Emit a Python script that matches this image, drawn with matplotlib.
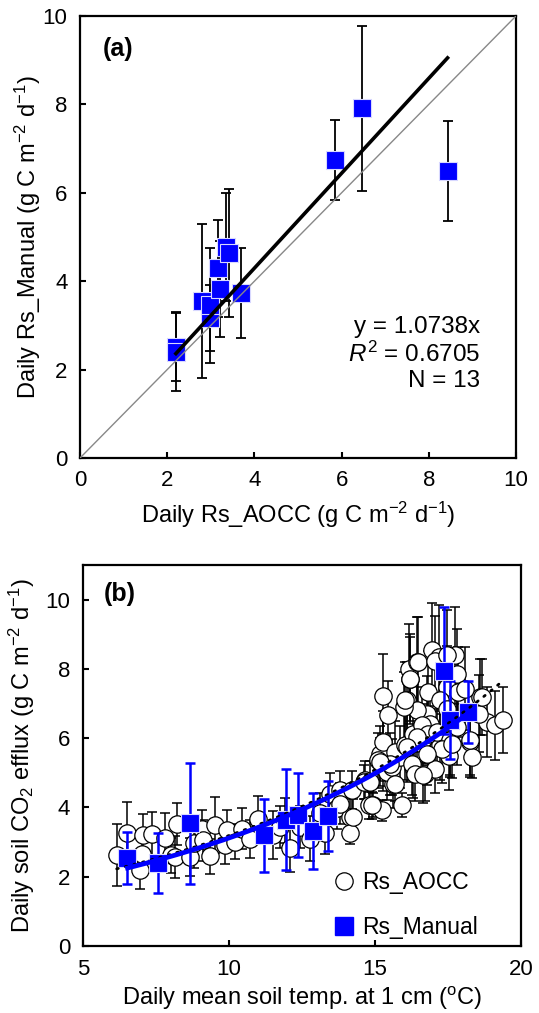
import numpy as np
import matplotlib
matplotlib.use('Agg')
import matplotlib.pyplot as plt
from matplotlib.lines import Line2D

plt.rcParams['font.family'] = ['Liberation Sans', 'DejaVu Sans']
plt.rcParams['mathtext.fontset'] = 'custom'
plt.rcParams['mathtext.rm'] = 'Liberation Sans'
plt.rcParams['mathtext.it'] = 'Liberation Sans:italic'
plt.rcParams['mathtext.bf'] = 'Liberation Sans:bold'

# ---------------- Panel (a) data ----------------
aocc_a = [2.20, 2.20, 2.79, 2.98, 2.98, 3.16, 3.20, 3.34, 3.42, 3.69, 5.86, 6.47, 8.43]
manual_a = [2.52, 2.40, 3.55, 3.17, 3.46, 4.29, 3.82, 4.78, 4.63, 3.73, 6.74, 7.91, 6.50]
manual_a_err = [0.78, 0.88, 1.75, 0.75, 1.30, 1.09, 1.08, 1.22, 1.45, 1.01, 0.91, 1.86, 1.13]
slope_a = 1.0738
eq_lines = ["y = 1.0738x", "$\\mathit{R}^2$ = 0.6705", "N = 13"]

# ---------------- Panel (b) data ----------------
temp_aocc = [6.16, 6.50, 6.96, 7.02, 7.07, 7.36, 7.82, 8.03, 8.21, 8.16, 8.67, 8.79,
             9.07, 9.13, 9.36, 9.53, 9.87, 9.93, 10.21, 10.44, 10.73, 11.01, 11.52,
             11.75, 12.10, 12.44, 12.78, 13.30, 13.47, 13.70, 13.82, 14.15, 14.13,
             14.21, 11.92, 13.12, 13.81, 14.66, 14.78,
             14.61, 14.84, 14.95, 15.24, 15.92, 15.63, 14.89, 15.29, 15.18, 15.29,
             15.41, 15.12, 15.58, 15.86, 15.69, 15.29, 15.46, 16.03, 16.09, 16.20,
             16.15, 16.44, 16.95, 17.18, 17.75, 17.80, 17.46, 16.83, 17.23, 17.46,
             16.78, 16.89, 16.44, 15.98, 16.32, 16.66, 17.23, 17.57, 17.52, 18.26,
             18.32, 18.60, 18.83, 19.12, 19.40, 16.72, 16.32, 15.52, 16.21, 16.03,
             16.49, 17.06, 17.46, 17.86, 18.09, 16.61, 16.83, 16.43, 17.12, 17.58,
             17.80, 18.55, 18.66, 18.26, 17.29, 17.63, 16.09, 16.26, 16.38, 17.06,
             16.78, 15.69, 16.66, 15.18, 14.26]
rs_aocc = [2.62, 3.25, 2.19, 2.67, 3.20, 3.23, 3.13, 2.62, 3.52, 2.57, 2.57, 2.96,
           3.39, 3.05, 2.59, 3.49, 2.91, 3.34, 3.01, 3.39, 3.10, 3.68, 3.20,
           3.44, 2.84, 3.44, 3.10, 3.25, 4.40, 3.97, 4.50, 3.73, 3.25,
           4.50, 3.63, 3.83, 4.11, 4.78, 4.06,
           4.74, 4.74, 4.07, 3.92, 4.07, 4.69, 4.06, 5.17, 5.55, 5.89,
           5.02, 5.36, 5.17, 5.46, 5.60, 7.23, 6.66, 5.79, 7.09, 7.72,
           8.00, 8.19, 8.55, 8.34, 8.39, 7.86, 7.47, 7.33, 7.09, 6.85,
           6.70, 6.42, 6.80, 6.90, 6.13, 5.98, 5.79, 5.89, 5.50, 5.89,
           5.46, 7.19, 6.47, 6.37, 6.53, 4.98, 5.17, 5.26, 7.71, 7.09,
           8.19, 8.24, 8.39, 7.33, 7.43, 6.37, 6.13, 6.03, 6.18, 5.94,
           6.32, 6.71, 7.18, 5.94, 5.70, 5.84, 5.74, 5.26, 4.98, 5.12,
           5.55, 4.69, 4.93, 5.31, 3.73]
rs_aocc_err = [0.90, 0.92, 0.55, 0.60, 0.60, 0.65, 0.70, 0.50, 0.60, 0.60, 0.55, 0.70,
               0.55, 0.60, 0.50, 0.80, 0.55, 0.60, 0.50, 0.60, 0.55, 0.65, 0.70,
               0.60, 0.70, 0.60, 0.65, 0.60, 0.60, 0.60, 0.55, 0.55, 0.30,
               0.55, 0.65, 0.60, 0.60, 0.55, 0.40,
               0.50, 0.60, 0.35, 0.30, 0.34, 0.70, 0.40, 0.70, 0.80, 0.90,
               0.80, 0.80, 0.80, 0.90, 0.90, 1.20, 1.00, 1.00, 1.10, 1.30,
               1.30, 1.30, 1.35, 1.50, 1.40, 1.30, 1.20, 1.20, 1.20, 1.10,
               1.10, 1.10, 1.20, 1.00, 1.00, 1.00, 1.00, 1.00, 1.00, 1.00,
               0.60, 1.10, 1.00, 1.00, 0.95, 0.80, 0.90, 0.90, 1.20, 1.10,
               1.30, 1.30, 1.30, 1.30, 1.20, 1.10, 1.10, 1.00, 1.10, 1.00,
               1.10, 1.10, 1.10, 1.00, 1.00, 1.00, 1.00, 0.90, 0.80, 0.70,
               0.90, 0.50, 0.80, 0.70, 0.50]

temp_manual = [6.53, 7.56, 8.66, 11.21, 11.95, 12.35, 12.89, 13.38, 17.35, 17.57, 18.17]
rs_manual_b = [2.53, 2.40, 3.54, 3.20, 3.65, 3.78, 3.32, 3.76, 7.95, 6.53, 6.75]
rs_manual_b_err = [0.75, 0.87, 1.75, 1.05, 1.45, 1.22, 1.10, 1.01, 1.84, 1.13, 0.90]

# exponential fits y = a*exp(b*T)
fit_manual = (1.22, 0.0938)
fit_aocc = (1.253, 0.0934)

BLUE = '#0000ff'
MS = 12.5

fig = plt.figure(figsize=(5.39, 10.13), dpi=100)

# ---------------- Panel (a) ----------------
axa = fig.add_axes([80/539, 555/1013, 436/539, 442/1013])
axa.plot([0, 10], [0, 10], color='#888888', lw=1.0, zorder=4)
xr = np.array([min(aocc_a), max(aocc_a)])
axa.plot(xr, slope_a * xr, color='black', lw=2.6, zorder=5)
axa.errorbar(aocc_a, manual_a, yerr=manual_a_err, fmt='none', ecolor='black',
             elinewidth=1.3, capsize=3.5, capthick=1.3, zorder=2)
axa.plot(aocc_a, manual_a, 's', color=BLUE, markersize=MS, markeredgecolor='#d8d8ff',
         markeredgewidth=0.8, zorder=3)
axa.set_xlim(0, 10)
axa.set_ylim(0, 10)
axa.set_xticks(range(0, 11, 2))
axa.set_yticks(range(0, 11, 2))
axa.text(0.052, 0.925, '(a)', transform=axa.transAxes, fontsize=18, fontweight='bold',
         ha='left', va='center')
for i, line in enumerate(eq_lines):
    axa.text(0.918, 0.296 - i * 0.061, line, transform=axa.transAxes, fontsize=17.5,
             ha='right', va='center')
axa.set_xlabel('Daily Rs_AOCC (g C m$^{\u22122}$ d$^{\u22121}$)', fontsize=17)
axa.set_ylabel('Daily Rs_Manual (g C m$^{\u22122}$ d$^{\u22121}$)', fontsize=17)
axa.xaxis.set_label_coords(0.5, -0.095)
axa.yaxis.set_label_coords(-0.084, 0.5)

# ---------------- Panel (b) ----------------
axb = fig.add_axes([82.8/539, 67/1013, 438.2/539, 381/1013])
axb.errorbar(temp_aocc, rs_aocc, yerr=rs_aocc_err, fmt='none', ecolor='black',
             elinewidth=1.1, capsize=3.5, capthick=1.1, zorder=2)
axb.plot(temp_aocc, rs_aocc, 'o', markerfacecolor='white', markeredgecolor='black',
         markersize=MS, markeredgewidth=0.9, zorder=3)
axb.errorbar(temp_manual, rs_manual_b, yerr=rs_manual_b_err, fmt='none', ecolor=BLUE,
             elinewidth=1.8, capsize=3.5, capthick=1.8, zorder=4)
axb.plot(temp_manual, rs_manual_b, 's', color=BLUE, markersize=MS,
         markeredgecolor='#d8d8ff', markeredgewidth=0.8, zorder=5)
ta = np.linspace(min(temp_aocc), max(temp_aocc), 200)
axb.plot(ta, fit_aocc[0] * np.exp(fit_aocc[1] * ta), color='black', lw=2.0,
         linestyle=(0, (0.6, 2.6)), dash_capstyle='round', zorder=5.5)
tm = np.linspace(min(temp_manual), max(temp_manual), 200)
axb.plot(tm, fit_manual[0] * np.exp(fit_manual[1] * tm), color=BLUE, lw=3.4, zorder=6)
axb.set_xlim(5, 20)
axb.set_ylim(0, 11)
axb.set_xticks([5, 10, 15, 20])
axb.set_yticks(range(0, 11, 2))
axb.text(0.047, 0.925, '(b)', transform=axb.transAxes, fontsize=18, fontweight='bold',
         ha='left', va='center')
handles = [Line2D([], [], marker='o', linestyle='none', markerfacecolor='white',
                  markeredgecolor='black', markersize=MS, markeredgewidth=0.9),
           Line2D([], [], marker='s', linestyle='none', color=BLUE, markersize=MS)]
axb.legend(handles, ['Rs_AOCC', 'Rs_Manual'], loc='lower left',
           bbox_to_anchor=(0.515, -0.035), frameon=False, fontsize=16.5,
           handletextpad=0.15, labelspacing=0.95, handlelength=1.3)
axb.set_xlabel('Daily mean soil temp. at 1 cm ($^{\\rm o}$C)', fontsize=17)
axb.set_ylabel('Daily soil CO$_2$ efflux (g C m$^{\u22122}$ d$^{\u22121}$)', fontsize=17)
axb.xaxis.set_label_coords(0.5, -0.103)
axb.yaxis.set_label_coords(-0.105, 0.5)

for ax in (axa, axb):
    for s in ax.spines.values():
        s.set_linewidth(1.6)
    ax.tick_params(direction='in', length=4, width=1.5, labelsize=16, pad=9,
                   top=False, right=False)

fig.savefig('out.png', dpi=100)
